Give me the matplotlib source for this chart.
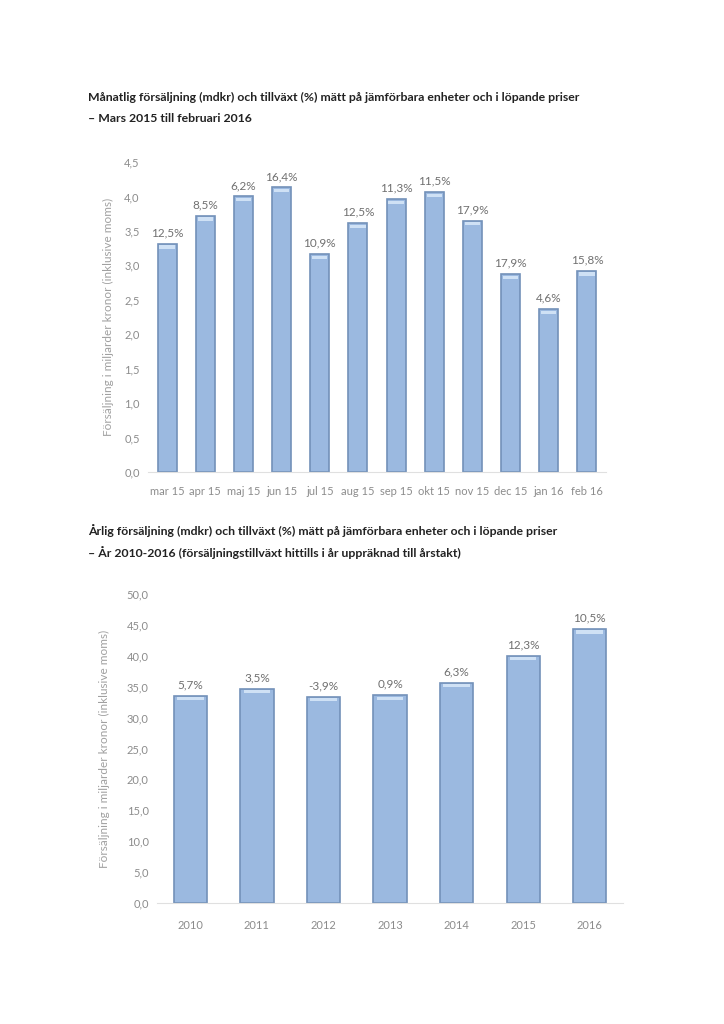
import matplotlib.pyplot as plt
import numpy as np

# monthly sales, mdkr
months = ['mar 15', 'apr 15', 'maj 15', 'jun 15', 'jul 15', 'aug 15',
          'sep 15', 'okt 15', 'nov 15', 'dec 15', 'jan 16', 'feb 16']
monthly = [3.31, 3.72, 4.00, 4.13, 3.16, 3.61, 3.96, 4.06, 3.65, 2.87, 2.36, 2.92]
monthly_growth = ['12,5%', '8,5%', '6,2%', '16,4%', '10,9%', '12,5%',
                  '11,3%', '11,5%', '17,9%', '17,9%', '4,6%', '15,8%']

# yearly sales, mdkr
years = ['2010', '2011', '2012', '2013', '2014', '2015', '2016']
yearly = [33.5, 34.7, 33.4, 33.6, 35.6, 40.0, 44.3]
yearly_growth = ['5,7%', '3,5%', '-3,9%', '0,9%', '6,3%', '12,3%', '10,5%']

plt.rcParams['font.family'] = ['Lato', 'DejaVu Sans']
grey = '#8c8c8c'
fill = '#9bb9e0'
edge = '#7391b9'
cap = '#cfe1f5'

fig = plt.figure(figsize=(7.24, 10.24), dpi=100)

def draw(ax, labels, vals, growth, ymax, step, cap_h, lab_off, fs, xpad):
    x = np.arange(len(vals))
    ax.bar(x, vals, width=0.5, color=fill, edgecolor=edge, linewidth=1.2)
    # light rim at the top of each bar
    ax.bar(x, [cap_h] * len(vals), bottom=np.array(vals) - cap_h * 1.4, width=0.4,
           color=cap, linewidth=0)
    for xi, v, g in zip(x, vals, growth):
        ax.text(xi, v + lab_off, g, ha='center', va='bottom', fontsize=fs + 0.5, color='#707070')
    ticks = np.arange(0, ymax + step / 2, step)
    ax.set_ylim(0, ymax)
    ax.set_xlim(-0.5, len(vals) - 0.5)
    ax.set_yticks(ticks)
    ax.set_yticklabels([('%.1f' % t).replace('.', ',') for t in ticks])
    ax.set_xticks(x)
    ax.set_xticklabels(labels)
    for s in ['top', 'right', 'left']:
        ax.spines[s].set_visible(False)
    ax.spines['bottom'].set_color('#e0e0e0')
    ax.tick_params(length=0, colors=grey, labelsize=fs)
    ax.tick_params(axis='x', pad=xpad)
    ax.tick_params(axis='y', pad=6)
    ax.set_ylabel('Försäljning i miljarder kronor (inklusive moms)', color='#a0a0a0', fontsize=fs + 0.5)

title_kw = dict(fontsize=8.8, fontweight='bold', va='center', color='#222222')

# top chart
fig.text(88 / 724, 1 - 97 / 1024, 'Månatlig försäljning (mdkr) och tillväxt (%) mätt på jämförbara enheter och i löpande priser', **title_kw)
fig.text(88 / 724, 1 - 119 / 1024, '– Mars 2015 till februari 2016', **title_kw)
ax1 = fig.add_axes([148 / 724, 1 - 472 / 1024, 458 / 724, (472 - 162) / 1024])
draw(ax1, months, monthly, monthly_growth, 4.5, 0.5, 0.05, 0.08, 8, 10)
ax1.yaxis.set_label_coords(-0.075, 0.5)

# bottom chart
fig.text(88 / 724, 1 - 531 / 1024, 'Årlig försäljning (mdkr) och tillväxt (%) mätt på jämförbara enheter och i löpande priser', **title_kw)
fig.text(88 / 724, 1 - 553 / 1024, '– År 2010-2016 (försäljningstillväxt hittills i år uppräknad till årstakt)', **title_kw)
ax2 = fig.add_axes([157 / 724, 1 - 903 / 1024, 466 / 724, (903 - 594) / 1024])
draw(ax2, years, yearly, yearly_growth, 50, 5, 0.5, 0.9, 8, 12)
ax2.yaxis.set_label_coords(-0.1, 0.5)

fig.savefig('out.png', dpi=100, facecolor='white')
